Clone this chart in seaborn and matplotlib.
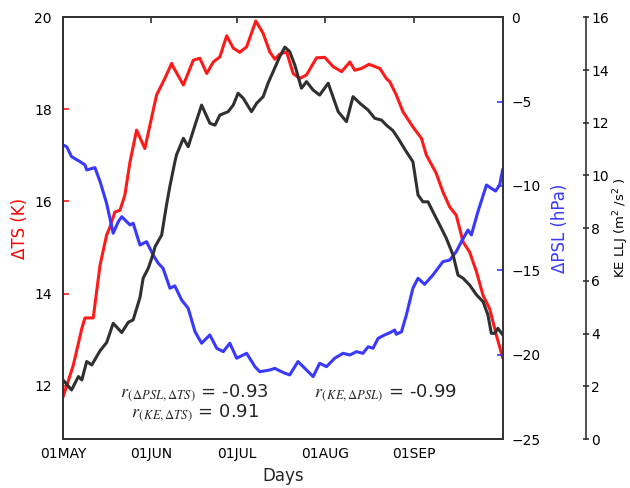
import numpy as np
import pandas as pd
import matplotlib
matplotlib.use("Agg")
import matplotlib.pyplot as plt
import seaborn as sns

# ---------------- data ----------------
ts_day = [0, 3.6, 6.6, 7.7, 10.6, 13.0, 15.3, 16.5, 18.2, 20.0, 21.7, 23.5, 25.8, 28.7,
          30.5, 32.8, 35.7, 38.1, 38.6, 42.2, 45.7, 48.0, 50.4, 52.7, 55.0, 57.4, 59.7,
          62.0, 64.4, 67.6, 70.2, 72.5, 74.3, 76.0, 78.4, 80.7, 83.0, 85.4, 88.9, 91.8,
          94.7, 97.7, 100.6, 102.3, 104.7, 107.3, 111.1, 113.4, 114.6, 116.9, 119.2,
          122.7, 125.7, 127.4, 130.9, 133.2, 135.6, 137.9, 140.3, 142.6, 145.0, 147.3,
          149.6, 152.0, 154.2]
ts_val = [11.75, 12.44, 13.24, 13.47, 13.47, 14.62, 15.27, 15.45, 15.77, 15.81, 16.14,
          16.86, 17.55, 17.15, 17.66, 18.31, 18.67, 19.0, 18.93, 18.53, 19.07, 19.11,
          18.78, 19.03, 19.14, 19.6, 19.33, 19.24, 19.36, 19.92, 19.65, 19.25, 19.09,
          19.2, 19.25, 18.78, 18.67, 18.75, 19.12, 19.13, 18.93, 18.82, 19.03, 18.85,
          18.89, 18.98, 18.89, 18.67, 18.6, 18.31, 17.95, 17.62, 17.37, 17.01, 16.61,
          16.21, 15.88, 15.70, 15.12, 14.90, 14.47, 13.96, 13.67, 13.09, 12.6]

ke_day = [0, 3.0, 5.4, 6.6, 8.3, 10.1, 13.0, 15.3, 17.6, 20.6, 22.9, 24.6, 27.0, 28.1,
          29.9, 31.5, 32.3, 34.6, 36.3, 37.5, 39.2, 39.8, 42.2, 43.9, 46.3, 48.6, 51.5,
          53.3, 55.0, 57.9, 59.7, 61.4, 63.2, 66.1, 67.9, 70.2, 71.9, 73.7, 76.0, 77.8,
          79.5, 81.3, 83.6, 85.4, 87.7, 90.0, 93.0, 96.5, 99.4, 101.7, 104.1, 107.0,
          109.3, 111.7, 113.4, 115.7, 117.5, 120.4, 122.7, 124.5, 126.2, 128.0, 130.3,
          132.1, 134.4, 136.8, 138.5, 140.3, 142.6, 145.0, 147.3, 149.0, 150.2, 151.4,
          152.5, 154.2]
ke_val = [2.24, 1.86, 2.37, 2.24, 2.94, 2.81, 3.35, 3.66, 4.39, 4.04, 4.43, 4.52, 5.37,
          6.1, 6.48, 6.98, 7.3, 7.74, 8.88, 9.6, 10.5, 10.78, 11.41, 11.09, 11.91, 12.67,
          11.98, 11.91, 12.29, 12.42, 12.67, 13.12, 12.93, 12.42, 12.74, 12.99, 13.50,
          13.94, 14.51, 14.87, 14.70, 14.19, 13.31, 13.56, 13.24, 13.05, 13.50, 12.42,
          12.04, 12.99, 12.74, 12.48, 12.17, 12.10, 11.91, 11.7, 11.41, 10.90, 10.52,
          9.26, 9.00, 9.00, 8.50, 8.12, 7.62, 6.98, 6.22, 6.10, 5.84, 5.47, 5.21, 4.71,
          4.01, 4.01, 4.20, 3.95]

psl_day = [0, 1.3, 3.0, 6.0, 7.7, 8.3, 11.2, 13.0, 15.3, 17.6, 19.4, 20.6, 22.3, 23.5,
           24.6, 27.0, 29.3, 31.6, 33.4, 35.1, 37.5, 39.2, 41.6, 43.9, 46.3, 48.6, 51.5,
           53.9, 56.2, 58.5, 60.9, 64.4, 67.3, 69.0, 72.5, 74.3, 76.0, 77.8, 79.5, 82.4,
           84.8, 87.7, 90.0, 92.4, 95.3, 98.2, 100.6, 102.9, 105.2, 107.0, 108.7, 110.5,
           112.8, 114.6, 116.3, 116.9, 118.7, 120.4, 122.7, 124.5, 126.8, 129.7, 133.2,
           135.6, 137.9, 139.7, 142.0, 143.2, 145.5, 148.5, 150.2, 151.7, 153.1, 154.2]
psl_val = [-7.57, -7.67, -8.26, -8.56, -8.75, -9.05, -8.91, -9.74, -11.03, -12.80, -12.11,
           -11.82, -12.11, -12.31, -12.21, -13.50, -13.30, -14.09, -14.58, -14.88, -16.06,
           -15.92, -16.76, -17.25, -18.64, -19.32, -18.83, -19.62, -19.82, -19.32, -20.21,
           -19.92, -20.71, -21.01, -20.91, -20.81, -20.96, -21.10, -21.20, -20.41, -20.81,
           -21.30, -20.51, -20.71, -20.21, -19.92, -20.02, -19.82, -19.92, -19.53, -19.62,
           -19.03, -18.83, -18.7, -18.54, -18.79, -18.64, -17.65, -16.06, -15.47, -15.83,
           -15.28, -14.49, -14.39, -13.89, -13.30, -12.61, -12.90, -11.52, -9.94, -10.14,
           -10.30, -9.94, -9.0]

xtick_pos = [0, 31, 61, 92, 123]
xtick_labels = ["01MAY", "01JUN", "01JUL", "01AUG", "01SEP"]
r_texts = [r"$r_{(\,\Delta PSL,\Delta TS)}$ = -0.93",
           r"$r_{(\,KE,\Delta TS)}$ = 0.91",
           r"$r_{(\,KE,\Delta PSL)}$ = -0.99"]

# ---------------- style ----------------
sns.set_style("white")
plt.rcParams["font.family"] = ["DejaVu Sans"]
plt.rcParams["mathtext.fontset"] = "stix"
plt.rcParams["axes.edgecolor"] = "#333333"
plt.rcParams["axes.linewidth"] = 1.2

RED = "#ff1a1a"
BLUE = "#3838ff"
BLACK = "#303030"

fig = plt.figure(figsize=(6.3, 4.88), dpi=100)
ax = fig.add_axes([0.1, 0.1004, 0.698, 0.8641])
ax2 = ax.twinx()
ax3 = ax.twinx()
ax3.spines["right"].set_position(("axes", 1.189))

df_ts = pd.DataFrame({"day": ts_day, "v": ts_val})
df_ke = pd.DataFrame({"day": ke_day, "v": ke_val})
df_psl = pd.DataFrame({"day": psl_day, "v": psl_val})

sns.lineplot(data=df_psl, x="day", y="v", ax=ax2, color=BLUE, lw=2.2, estimator=None, sort=False)
sns.lineplot(data=df_ke, x="day", y="v", ax=ax3, color=BLACK, lw=2.2, estimator=None, sort=False)
sns.lineplot(data=df_ts, x="day", y="v", ax=ax, color=RED, lw=2.2, estimator=None, sort=False)

for a in (ax, ax2, ax3):
    a.set_xlim(0, 154.2)

ax.set_ylim(10.84, 20)
ax2.set_ylim(-25, 0)
ax3.set_ylim(0, 16)

ax.set_yticks([12, 14, 16, 18, 20])
ax2.set_yticks([-25, -20, -15, -10, -5, 0])
ax3.set_yticks([0, 2, 4, 6, 8, 10, 12, 14, 16])

ax.set_xticks(xtick_pos)
ax.set_xticklabels(xtick_labels)

ax.tick_params(axis="x", direction="in", length=4, width=1.2, colors=BLACK,
               labelsize=10, top=True, labelcolor="black", pad=6)
ax.tick_params(axis="y", direction="in", length=4, width=1.2, colors=RED,
               labelcolor="black", labelsize=10, left=True, pad=8)
ax2.tick_params(axis="y", direction="in", length=4, width=1.2, colors=BLUE,
                labelcolor="black", labelsize=10, right=True, pad=6)
ax3.tick_params(axis="y", direction="inout", length=4, width=1.2, colors=BLACK,
                labelcolor="black", labelsize=10, right=True, pad=2)
for a in (ax2, ax3):
    a.tick_params(axis="x", bottom=False, top=False, labelbottom=False)

ax.set_xlabel("Days", fontsize=12, labelpad=4)
ax.set_ylabel("ΔTS (K)", color="red", fontsize=12, labelpad=4)
ax2.set_ylabel("ΔPSL (hPa)", color=BLUE, fontsize=12, labelpad=8)
ax3.set_ylabel("")
fig.text(621 / 630, 1 - 228 / 488,
         r"KE LLJ (m$\mathregular{^2}$ /s$\mathregular{^2}$ )", color="black",
         fontsize=9.5, rotation=90, ha="center", va="center")

for s in ("top", "right", "left", "bottom"):
    ax.spines[s].set_color("#333333")
ax2.spines["right"].set_color("#333333")
ax3.spines["right"].set_color("#333333")

fig.text(194 / 630, 1 - 393 / 488, r_texts[0], ha="center", va="center", fontsize=13)
fig.text(195 / 630, 1 - 413 / 488, r_texts[1], ha="center", va="center", fontsize=13)
fig.text(385 / 630, 1 - 393 / 488, r_texts[2], ha="center", va="center", fontsize=13)

fig.savefig("out.png", dpi=100)
